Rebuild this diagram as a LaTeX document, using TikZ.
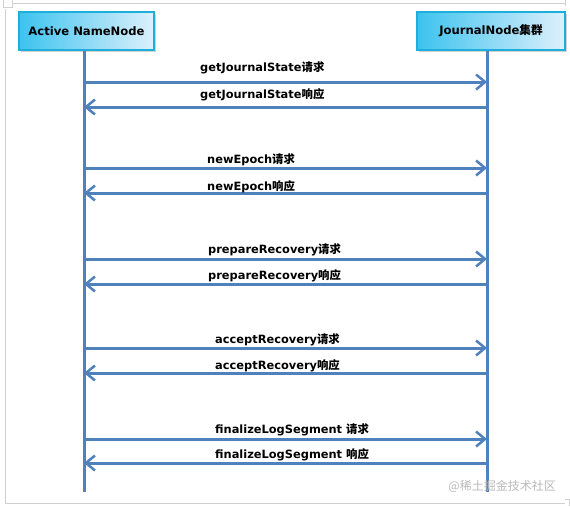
\documentclass[tikz,border=0pt]{standalone}
\usepackage{fontspec}
\setmainfont{DejaVu Sans}
\newfontfamily\cjk{Noto Sans CJK SC}
\usetikzlibrary{arrows.meta,shadows}
\definecolor{lineblue}{HTML}{4F81BD}
\definecolor{boxborder}{HTML}{1EAEDB}
\definecolor{boxleft}{HTML}{3CC3EE}
\definecolor{boxright}{HTML}{DDF0FC}
\definecolor{framegray}{HTML}{D0D0D0}
\tikzset{
  actor/.style={draw=boxborder, line width=2pt, left color=boxleft, right color=boxright,
    drop shadow={shadow xshift=2pt, shadow yshift=-2pt, fill=gray!60, opacity=0.6},
    minimum height=38pt, font=\bfseries\fontsize{11.6}{13}\selectfont, inner sep=0pt},
  life/.style={draw=lineblue, line width=3pt},
  msg/.style={draw=lineblue, line width=3pt, -{Straight Barb[length=9pt,width=15pt,line width=2.5pt]}},
  lbl/.style={anchor=west, font=\bfseries\fontsize{11.4}{13}\selectfont, inner sep=0pt},
  wm/.style={font=\cjk\fontsize{12}{14}\selectfont, text=gray!55, anchor=east, inner sep=0pt}
}
\begin{document}
\begin{tikzpicture}[x=1pt,y=-1pt]
\useasboundingbox (0,0) rectangle (570,506);
% frame
\draw[framegray, line width=0.8pt] (12,3) -- (565,3);
\draw[framegray, line width=0.8pt] (5,9) -- (5,503) -- (565,503);
\draw[framegray, line width=0.8pt] (3,0) -- (3,7) -- (12,7) -- (12,0);
\draw[framegray, line width=0.8pt] (565,0) -- (565,6);
\draw[framegray, line width=0.8pt] (565,499) -- (569,499) -- (569,506);
% actors
\node[actor, minimum width=135pt] (an) at (86.5,31) {Active NameNode};
\node[actor, minimum width=148pt] (jn) at (491,31) {JournalNode{\cjk 集群}};
\coordinate (anend) at (84,492);
\coordinate (jnend) at (487,492);
\draw[life] (an.south -| anend) -- (anend);
\draw[life] (jn.south -| jnend) -- (jnend);
% messages
\foreach \ya/\yb/\ta/\tb/\xa/\na [count=\i] in {
  82/107/68/95/200/getJournalState,
  168/193/160/187/207/newEpoch,
  259/284/250/276/208/prepareRecovery,
  348/373/340/366/215/acceptRecovery,
  439/463/430/455/215/{finalizeLogSegment }} {
  \coordinate (la\i) at (84,\ya);
  \coordinate (ra\i) at (487,\ya);
  \coordinate (lb\i) at (84,\yb);
  \coordinate (rb\i) at (487,\yb);
  \draw[msg] (la\i) -- (ra\i);
  \draw[msg] (rb\i) -- (lb\i);
  \node[lbl] (req\i) at (\xa,\ta) {\na{\cjk 请求}};
  \node[lbl] (res\i) at (\xa,\tb) {\na{\cjk 响应}};
}
\node[wm] (wmk) at (556,486) {@稀土掘金技术社区};
\end{tikzpicture}
\end{document}
